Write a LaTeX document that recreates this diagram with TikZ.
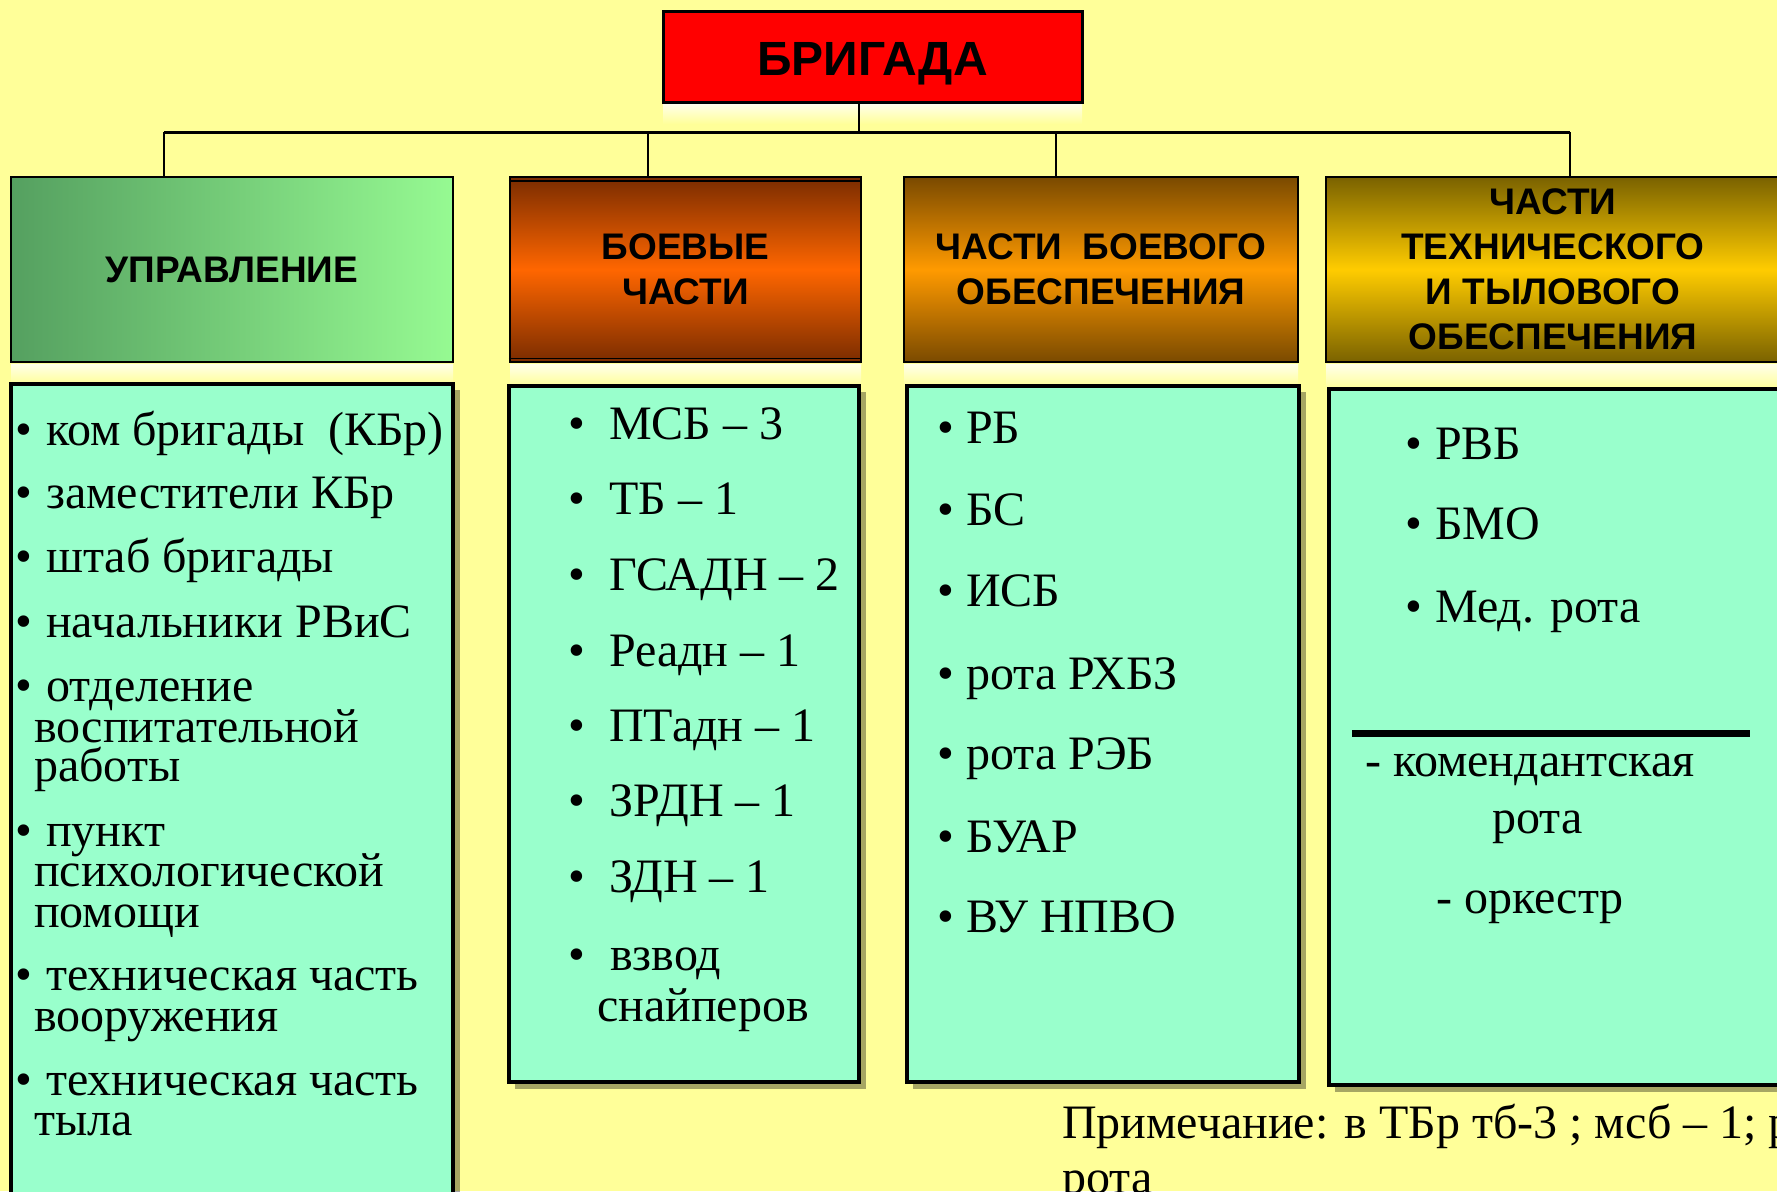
\documentclass[tikz,border=0pt]{standalone}
\usepackage{fontspec}
\setmainfont{Liberation Serif}
\setsansfont{Liberation Sans}
\definecolor{bg}{HTML}{FFFF99}
\definecolor{mint}{HTML}{99FFCC}
\definecolor{gl}{HTML}{55A060}
\definecolor{gr}{HTML}{96FA92}
\definecolor{brd}{HTML}{7A2C00}
\definecolor{bro}{HTML}{FF6600}
\definecolor{ord}{HTML}{7A4A00}
\definecolor{oro}{HTML}{FF9A00}
\definecolor{yld}{HTML}{7A6200}
\definecolor{ylo}{HTML}{FFCC00}
\tikzset{
  hdrbox/.style={draw=black, line width=2.5pt, rectangle, inner sep=0, align=center,
    font=\sffamily\bfseries\fontsize{37}{45}\selectfont},
  listbox/.style={draw=black, line width=4pt, fill=mint, rectangle, inner sep=0},
  itemtxt/.style={anchor=base west, inner sep=0, font=\fontsize{48}{48}\selectfont},
  conn/.style={draw=black, line width=2pt},
  shadowbox/.style={fill=black, opacity=0.35},
  glow/.style={top color=white, bottom color=bg, opacity=0.8}
}
\newcommand\itm[4]{\node[itemtxt] (#1) at (#2,#3) {#4};}
\begin{document}
\begin{tikzpicture}[x=1pt,y=-1pt]
\clip (0,0) rectangle (1777,1191);
\fill[bg] (0,0) rectangle (1777,1191);

% glows under top row boxes
\shade[glow] (663,104) rectangle (1082,124);
\shade[glow] (11,364) rectangle (453,384);
\shade[glow] (510,364) rectangle (861,386);
\shade[glow] (904,364) rectangle (1298,386);
\shade[glow] (1326,364) rectangle (1777,389);

% top box
\node[draw=black, line width=3pt, fill=red, minimum width=419pt, minimum height=91pt,
  inner sep=0, text depth=0pt, font=\sffamily\bfseries\fontsize{48}{48}\selectfont] (top) at (872.5,56.5) {\raisebox{-5pt}{БРИГАДА}};

% header boxes
\node[hdrbox, minimum width=442pt, minimum height=185pt, left color=gl, right color=gr] (h1) at (232,269.5) {УПРАВЛЕНИЕ};
\node[hdrbox, minimum width=351pt, minimum height=185pt, top color=brd, bottom color=brd, middle color=bro] (h2) at (685.5,269.5) {БОЕВЫЕ\\ЧАСТИ};
\draw[black, line width=1.5pt] (h2.north west) ++(0,5) -- ++(351,0);
\draw[black, line width=1.5pt] (h2.south west) ++(0,-5) -- ++(351,0);
\node[hdrbox, minimum width=394pt, minimum height=185pt, top color=ord, bottom color=ord, middle color=oro] (h3) at (1101,269.5) {ЧАСТИ\ \ БОЕВОГО\\ОБЕСПЕЧЕНИЯ};
\node[hdrbox, minimum width=454pt, minimum height=185pt, top color=yld, bottom color=yld, middle color=ylo] (h4) at (1553,269.5) {ЧАСТИ\\ТЕХНИЧЕСКОГО\\И ТЫЛОВОГО\\ОБЕСПЕЧЕНИЯ};

% connectors
\coordinate (j) at (859,132);
\coordinate (d1) at (164,177);
\coordinate (d2) at (648,177);
\coordinate (d3) at (1056,177);
\coordinate (d4) at (1570,177);
\draw[conn] (j |- top.south) -- (j);
\draw[conn, line width=3pt] (d1 |- j) -- (d4 |- j);
\draw[conn] (d1 |- j) -- (d1);
\draw[conn] (d2 |- j) -- (d2);
\draw[conn] (d3 |- j) -- (d3);
\draw[conn] (d4 |- j) -- (d4);

% shadows of list boxes
\fill[shadowbox] (17,390) rectangle (460,1200);
\fill[shadowbox] (515,392) rectangle (866,1089);
\fill[shadowbox] (913,392) rectangle (1306,1089);
\fill[shadowbox] (1335,395) rectangle (1790,1092);

% list boxes
\node[listbox, minimum width=442pt, minimum height=816pt] (b1) at (232,792) {};
\node[listbox, minimum width=350pt, minimum height=696pt] (b2) at (684,734) {};
\node[listbox, minimum width=392pt, minimum height=696pt] (b3) at (1103,734) {};
\node[listbox, minimum width=461pt, minimum height=696pt] (b4) at (1559.5,737) {};

% divider in box 4
\coordinate (dv1) at (1352,733);
\coordinate (dv2) at (1750,733);
\draw[black, line width=7pt] (dv1) -- (dv2);

% box 1 items
\itm{p1}{15}{445}{•}\itm{a1}{46}{445}{ком бригады\ \ (КБр)}
\itm{p2}{15}{508}{•}\itm{a2}{46}{508}{заместители КБр}
\itm{p3}{15}{572}{•}\itm{a3}{46}{572}{штаб бригады}
\itm{p4}{15}{637}{•}\itm{a4}{46}{637}{начальники РВиС}
\itm{p5}{15}{701}{•}\itm{a5}{46}{701}{отделение}
\itm{a5b}{34}{742}{воспитательной}
\itm{a5c}{34}{781}{работы}
\itm{p6}{15}{846}{•}\itm{a6}{46}{846}{пункт}
\itm{a6b}{34}{886}{психологической}
\itm{a6c}{34}{927}{помощи}
\itm{p7}{15}{990}{•}\itm{a7}{46}{990}{техническая часть}
\itm{a7b}{34}{1031}{вооружения}
\itm{p8}{15}{1095}{•}\itm{a8}{46}{1095}{техническая часть}
\itm{a8b}{34}{1135}{тыла}

% box 2 items
\itm{q1}{568}{439}{•}\itm{c1}{609}{439}{МСБ – 3}
\itm{q2}{568}{514}{•}\itm{c2}{609}{514}{ТБ – 1}
\itm{q3}{568}{590}{•}\itm{c3}{609}{590}{ГСАДН – 2}
\itm{q4}{568}{666}{•}\itm{c4}{609}{666}{Реадн – 1}
\itm{q5}{568}{741}{•}\itm{c5}{609}{741}{ПТадн – 1}
\itm{q6}{568}{816}{•}\itm{c6}{609}{816}{ЗРДН – 1}
\itm{q7}{568}{892}{•}\itm{c7}{609}{892}{ЗДН – 1}
\itm{q8}{568}{970}{•}\itm{c8}{610}{970}{взвод}
\itm{c8b}{597}{1021}{снайперов}

% box 3 items
\itm{r1}{937}{443}{•}\itm{e1}{966}{443}{РБ}
\itm{r2}{937}{525}{•}\itm{e2}{966}{525}{БС}
\itm{r3}{937}{606}{•}\itm{e3}{966}{606}{ИСБ}
\itm{r4}{937}{689}{•}\itm{e4}{966}{689}{рота РХБЗ}
\itm{r5}{937}{769}{•}\itm{e5}{966}{769}{рота РЭБ}
\itm{r6}{937}{852}{•}\itm{e6}{966}{852}{БУАР}
\itm{r7}{937}{932}{•}\itm{e7}{966}{932}{ВУ НПВО}

% box 4 items
\itm{s1}{1405}{459}{•}\itm{f1}{1435}{459}{РВБ}
\itm{s2}{1405}{539}{•}\itm{f2}{1435}{539}{БМО}
\itm{s3}{1405}{622}{•}\itm{f3}{1435}{622}{Мед. рота}
\itm{f4}{1365}{776}{- комендантская}
\itm{f4b}{1492}{833}{рота}
\itm{f5}{1436}{913}{- оркестр}

% note
\itm{n1}{1062}{1138}{Примечание: в ТБр тб-3 ; мсб – 1; р}
\itm{n2}{1062}{1193}{рота}
\end{tikzpicture}
\end{document}
